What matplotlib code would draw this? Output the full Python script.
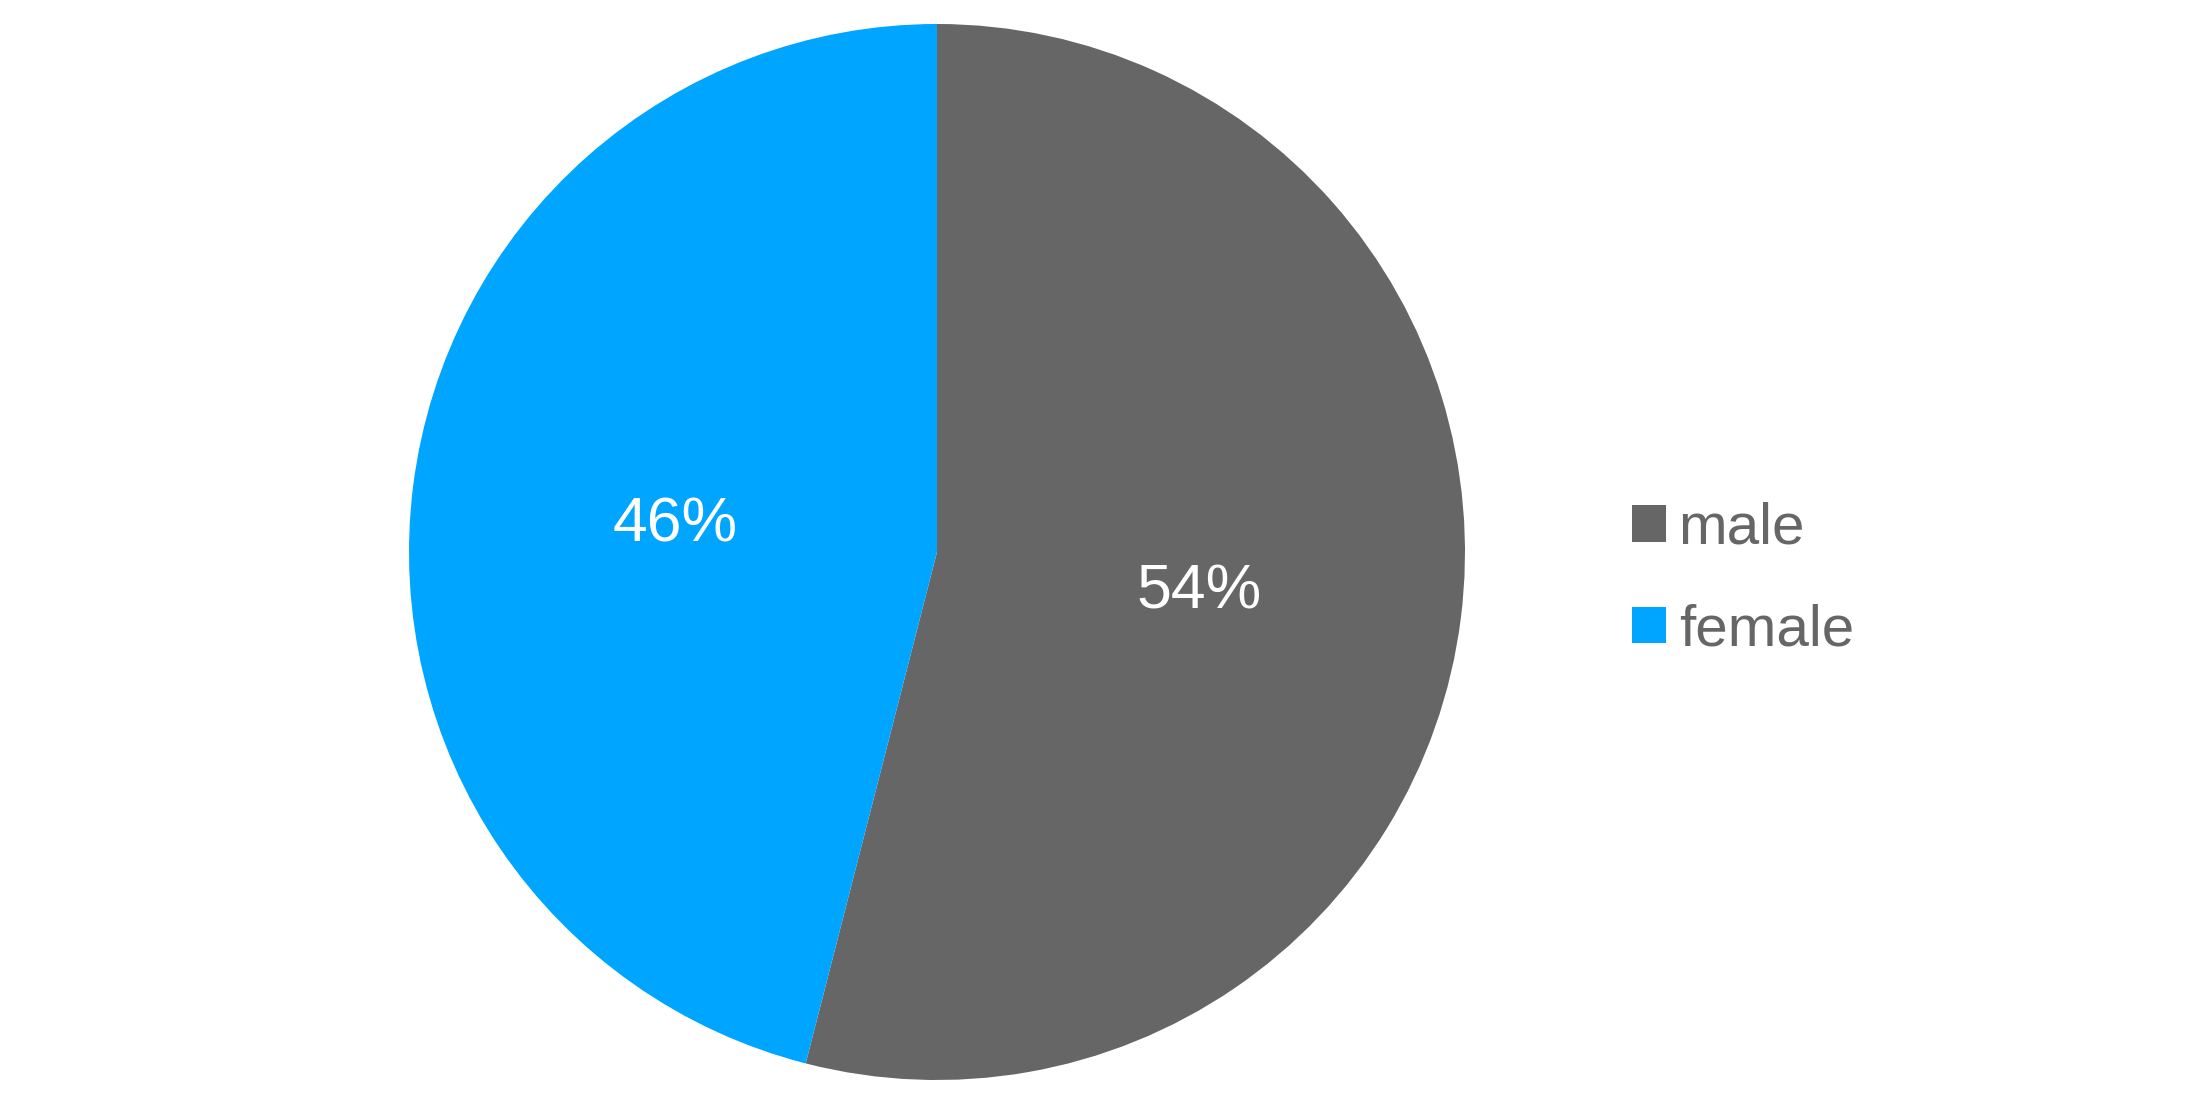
import matplotlib
matplotlib.use("Agg")
import matplotlib.pyplot as plt

categories = ["male", "female"]
values = [54, 46]
colors = ["#666666", "#00A5FF"]

W, H, DPI = 2194, 1096, 100
plt.rcParams['font.family'] = ['Liberation Sans', 'DejaVu Sans']

fig = plt.figure(figsize=(W / DPI, H / DPI), dpi=DPI)
cx, cy, r = 937, 552, 528
ax = fig.add_axes([(cx - r) / W, (H - cy - r) / H, 2 * r / W, 2 * r / H])
wedges, texts, autotexts = ax.pie(
    values, colors=colors, startangle=90, counterclock=False,
    autopct=lambda p: f"{p:.0f}%", pctdistance=0.5, radius=1,
    wedgeprops=dict(linewidth=0),
    textprops=dict(color="white", fontsize=45),
)
for t in autotexts:
    t.set_verticalalignment("center_baseline")
ax.set_xlim(-1, 1)
ax.set_ylim(-1, 1)
ax.set_aspect("equal")
ax.axis("off")

leg = fig.legend(
    wedges, categories, loc="upper left",
    bbox_to_anchor=(1632 / W, 1 - 502 / H), bbox_transform=fig.transFigure,
    frameon=False, fontsize=42, handlelength=0.58, handleheight=0.58,
    handletextpad=0.22, labelspacing=0.815, borderpad=0, borderaxespad=0,
    labelcolor="#666666",
)

fig.savefig("out.png", dpi=DPI)
